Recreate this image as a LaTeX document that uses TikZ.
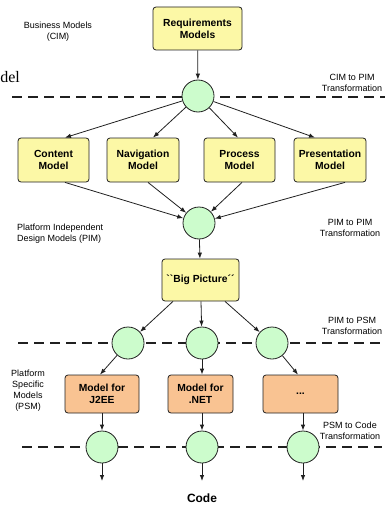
\documentclass[tikz,border=0pt]{standalone}
\usepackage{fontspec}
\setmainfont{Liberation Sans}
\newfontfamily\serifface{Liberation Serif}
\usetikzlibrary{arrows.meta,calc}
\definecolor{yellowfill}{HTML}{FCF8A6}
\definecolor{orangefill}{HTML}{F9C392}
\definecolor{greenfill}{HTML}{CCFCCC}
\definecolor{edge}{HTML}{202020}
\begin{document}
\begin{tikzpicture}[x=1pt,y=-1pt,
  box/.style={draw=edge, rounded corners=3pt, line width=0.8pt, align=center,
    font=\bfseries\fontsize{10.3}{12}\selectfont, inner sep=0pt},
  ymodel/.style={box, fill=yellowfill},
  omodel/.style={box, fill=orangefill},
  hub/.style={circle, draw=edge, fill=greenfill, line width=0.8pt, minimum size=32pt, inner sep=0pt},
  note/.style={font=\fontsize{9}{11}\selectfont, align=center, inner sep=0pt},
  flow/.style={-{Latex[length=6pt,width=4.5pt]}, line width=0.8pt, draw=edge},
  divider/.style={dash pattern=on 10pt off 6pt, line width=1.7pt, draw=edge}]
\useasboundingbox (0,0) rectangle (385,508);

% layer dividers (behind the hubs)
\coordinate (d1s) at (12,97);  \coordinate (d1e) at (385,97);
\coordinate (d2s) at (18,343); \coordinate (d2e) at (385,343);
\coordinate (d3s) at (22,447); \coordinate (d3e) at (382,447);
\draw[divider] (d1s) -- (d1e);
\draw[divider] (d2s) -- (d2e);
\draw[divider] (d3s) -- (d3e);

% models
\node[ymodel, minimum width=89pt, minimum height=43pt] (req) at (197.5,28.5) {Requirements\\Models};
\node[ymodel, minimum width=71pt, minimum height=44pt] (content) at (53.5,160) {Content\\Model};
\node[ymodel, minimum width=72pt, minimum height=44pt] (nav) at (143,160) {Navigation\\Model};
\node[ymodel, minimum width=71pt, minimum height=44pt] (proc) at (239.5,160) {Process\\Model};
\node[ymodel, minimum width=72pt, minimum height=44pt] (pres) at (330,160) {Presentation\\Model};
\node[ymodel, minimum width=77pt, minimum height=42pt] (big) at (200.5,280) {\textasciigrave\textasciigrave Big Picture´´};
\node[omodel, minimum width=74pt, minimum height=38pt] (j2ee) at (102,394) {Model for\\J2EE};
\node[omodel, minimum width=65pt, minimum height=38pt] (net) at (200.5,394) {Model for\\.NET};
\node[omodel, minimum width=75pt, minimum height=38pt] (etc) at (300.5,394) {...};

% transformation hubs
\node[hub] (c1) at (198,96) {};
\node[hub] (c2) at (199,223) {};
\node[hub] (p1) at (128,343) {};
\node[hub] (p2) at (202,343) {};
\node[hub] (p3) at (272,343) {};
\node[hub] (k1) at (102,447) {};
\node[hub] (k2) at (202,447) {};
\node[hub] (k3) at (303,447) {};

% connectors
\draw[flow] (req) -- (c1);
\draw[flow] (c1) -- ([xshift=11.5pt]content.north);
\draw[flow] (c1) -- ([xshift=10pt]nav.north);
\draw[flow] (c1) -- ([xshift=-1.5pt]proc.north);
\draw[flow] (c1) -- ([xshift=-15pt]pres.north);
\draw[flow] ([xshift=11.5pt]content.south) -- (c2);
\draw[flow] ([xshift=5pt]nav.south) -- (c2);
\draw[flow] ([xshift=2.5pt]proc.south) -- (c2);
\draw[flow] ([xshift=15pt]pres.south) -- (c2);
\draw[flow] (c2) -- (big);
\draw[flow] ([xshift=-27.5pt]big.south) -- (p1);
\draw[flow] ([xshift=0.5pt]big.south) -- (p2);
\draw[flow] ([xshift=24.5pt]big.south) -- (p3);
\draw[flow] (p1) -- ([xshift=-2pt]j2ee.north);
\draw[flow] (p2) -- (p2 |- net.north);
\draw[flow] (p3) -- ([xshift=-2.5pt]etc.north);
\draw[flow] (j2ee) -- (k1);
\draw[flow] (net.south -| k2) -- (k2);
\draw[flow] (etc.south -| k3) -- (k3);
\coordinate (o1) at (102,481);
\coordinate (o2) at (202,481);
\coordinate (o3) at (303,481);
\draw[flow] (k1) -- (o1);
\draw[flow] (k2) -- (o2);
\draw[flow] (k3) -- (o3);

% layer captions
\node[note] (biz) at (58,32) {Business Models\\(CIM)};
\node[anchor=base east, inner sep=0pt, font=\serifface\fontsize{16}{18}\selectfont] (frag) at (20,83) {del};
\node[note] (cim2pim) at (352,83) {CIM to PIM\\Transformation};
\node[note, anchor=west, align=left] (pim) at (17,234) {Platform Independent\\Design Models (PIM)};
\node[note] (pim2pim) at (350,228) {PIM to PIM\\Transformation};
\node[note] (pim2psm) at (352,326) {PIM to PSM\\Transformation};
\node[note] (psm) at (28,391) {Platform\\Specific\\Models\\(PSM)};
\node[note] (psm2code) at (350,431) {PSM to Code\\Transformation};
\node[font=\bfseries\fontsize{12}{14}\selectfont, inner sep=0pt] (code) at (202,498) {Code};
\end{tikzpicture}
\end{document}
